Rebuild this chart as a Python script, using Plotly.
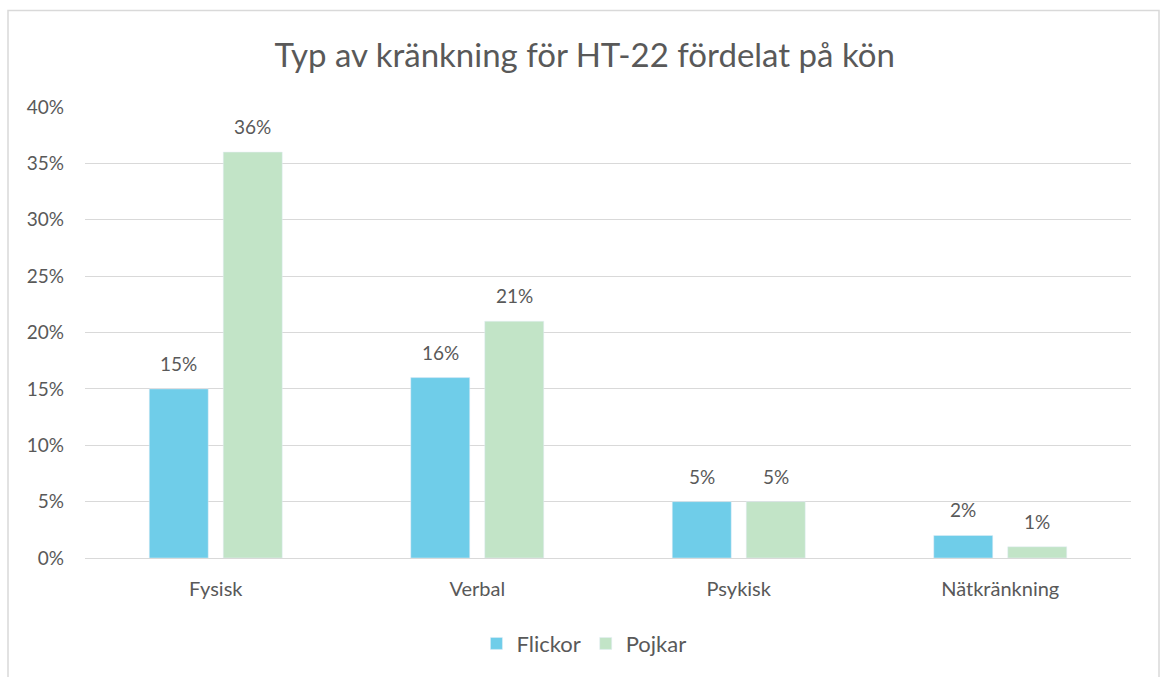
import plotly.graph_objects as go

categories = ["Fysisk", "Verbal", "Psykisk", "Nätkränkning"]
flickor = [0.15, 0.16, 0.05, 0.02]
pojkar = [0.36, 0.21, 0.05, 0.01]
labels_f = ["15%", "16%", "5%", "2%"]
labels_p = ["36%", "21%", "5%", "1%"]
y_ticks = [0, 0.05, 0.10, 0.15, 0.20, 0.25, 0.30, 0.35, 0.40]
y_ticktext = ["0%", "5%", "10%", "15%", "20%", "25%", "30%", "35%", "40%"]

FONT = "Lato, Open Sans, sans-serif"
TXT = "#595959"

fig = go.Figure()
fig.add_trace(go.Bar(name="Flickor", x=categories, y=flickor, marker_color="#6FCDE9"))
fig.add_trace(go.Bar(name="Pojkar", x=categories, y=pojkar, marker_color="#C2E4C7"))

annotations = []
for cat, v, t in zip(categories, flickor, labels_f):
    annotations.append(dict(x=cat, y=v, text=t, xref="x", yref="y", showarrow=False,
                            xanchor="center", yanchor="bottom", xshift=-37, yshift=12,
                            font=dict(size=19, color=TXT, family=FONT)))
for cat, v, t in zip(categories, pojkar, labels_p):
    annotations.append(dict(x=cat, y=v, text=t, xref="x", yref="y", showarrow=False,
                            xanchor="center", yanchor="bottom", xshift=37, yshift=12,
                            font=dict(size=19, color=TXT, family=FONT)))

W, H = 1160, 677
L, R, T, B = 85, 29, 107, 117
pw, ph = W - L - R, H - T - B

def px_x(x):
    return (x - L) / pw

def px_y(y):
    return (H - B - y) / ph

fig.update_layout(
    width=W, height=H,
    margin=dict(l=L, r=R, t=T, b=B),
    paper_bgcolor="white", plot_bgcolor="white",
    barmode="group", bargap=0.434, bargroupgap=0.203,
    title=dict(text="Typ av kränkning för HT-22 fördelat på kön", x=0.504, xanchor="center",
               y=1 - 55 / H, yanchor="middle",
               font=dict(size=33, color=TXT, family=FONT)),
    font=dict(family=FONT, color=TXT, size=19),
    xaxis=dict(showgrid=False, showline=True, linecolor="#D9D9D9", linewidth=1,
               ticks="", tickfont=dict(size=20, color=TXT), ticklabelstandoff=13),
    yaxis=dict(range=[0, 0.40], tickvals=y_ticks, ticktext=y_ticktext,
               showgrid=True, gridcolor="#D9D9D9", gridwidth=1, zeroline=False,
               showline=False, ticks="", tickfont=dict(size=19, color=TXT),
               ticklabelstandoff=20),
    legend=dict(orientation="h", x=0.477, xanchor="center", y=px_y(646), yanchor="middle",
                font=dict(size=22, color=TXT), itemwidth=30, traceorder="normal"),
    annotations=annotations,
    shapes=[dict(type="rect", xref="paper", yref="paper",
                 x0=px_x(8), x1=px_x(1159), y0=px_y(720), y1=px_y(10),
                 line=dict(color="#D9D9D9", width=1.5), layer="below")],
)

fig.write_html("out.html", post_script="document.body.style.margin='0';",
               config={"displayModeBar": False})
